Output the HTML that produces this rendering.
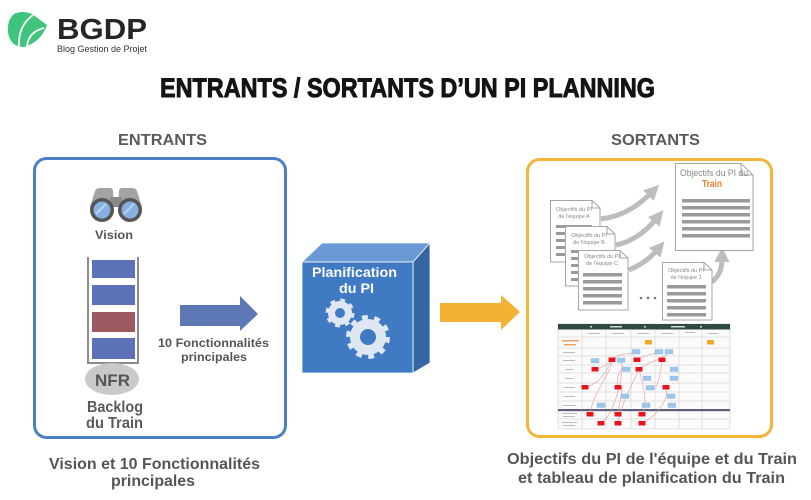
<!DOCTYPE html>
<html><head><meta charset="utf-8"><style>
html,body{margin:0;padding:0;background:#fff;}
svg{display:block;}
text{font-family:"Liberation Sans",Arial,sans-serif;font-weight:bold;}
</style></head><body>
<svg width="811" height="500" viewBox="0 0 811 500" xmlns="http://www.w3.org/2000/svg">
<defs>
<marker id="ah" markerWidth="3" markerHeight="3" refX="1" refY="1.5" orient="auto"><path d="M0 0 L3 1.5 L0 3Z" fill="#bdbdbd"/></marker>
</defs>
<rect width="811" height="500" fill="#fff"/>
<!-- Logo -->
<path d="M14 14 Q22 10 32 14 L47 25 Q41 42 24 47 Q10 47 8 32 Q7 20 14 14Z" fill="#3fc57b"/>
<path d="M19 46 Q18 26 33 15" stroke="#fff" stroke-width="1.8" fill="none"/>
<path d="M27 47 Q28 32 44 28" stroke="#fff" stroke-width="1.8" fill="none"/>
<text x="57" y="39" font-size="29" fill="#262626" textLength="90" lengthAdjust="spacingAndGlyphs">BGDP</text>
<text x="57" y="52" font-size="9.5" style="font-weight:normal" fill="#333" textLength="90" lengthAdjust="spacingAndGlyphs">Blog Gestion de Projet</text>
<!-- Title -->
<text x="160" y="97" font-size="26.5" fill="#141414" stroke="#141414" stroke-width="0.9" textLength="495" lengthAdjust="spacingAndGlyphs">ENTRANTS / SORTANTS D’UN PI PLANNING</text>
<text x="118" y="145" font-size="16" fill="#5a5a5a" textLength="89" lengthAdjust="spacingAndGlyphs">ENTRANTS</text>
<text x="611" y="145" font-size="16" fill="#5a5a5a" textLength="89" lengthAdjust="spacingAndGlyphs">SORTANTS</text>

<!-- Left box -->
<rect x="34.5" y="158.5" width="251" height="279" rx="12" fill="#fff" stroke="#4b80c8" stroke-width="3"/>
<!-- binoculars -->
<path d="M90 207 L95 191 Q96 188 100 188 L110 188 Q113 188 113 191 L114 207Z" fill="#a3a3a3"/>
<path d="M118 207 L119 191 Q119 188 122 188 L132 188 Q136 188 137 191 L142 207Z" fill="#a3a3a3"/>
<rect x="110" y="197" width="12" height="10" fill="#8a8a8a"/>
<circle cx="102" cy="210" r="12" fill="#555"/>
<circle cx="130" cy="210" r="12" fill="#555"/>
<circle cx="102" cy="210" r="8.5" fill="#86b0e2"/>
<circle cx="130" cy="210" r="8.5" fill="#86b0e2"/>
<path d="M96 214 L106 204" stroke="#b8d2f0" stroke-width="2"/>
<path d="M124 214 L134 204" stroke="#b8d2f0" stroke-width="2"/>
<text x="95" y="239" font-size="12" fill="#555" textLength="38" lengthAdjust="spacingAndGlyphs">Vision</text>
<!-- backlog -->
<path d="M88 257 V363 H138 V257" fill="none" stroke="#8c8c8c" stroke-width="2"/>
<rect x="92" y="260" width="43" height="18" fill="#5b72b6"/>
<rect x="92" y="285" width="43" height="20" fill="#5b72b6"/>
<rect x="92" y="312" width="43" height="20" fill="#9b5a5f"/>
<rect x="92" y="338" width="43" height="21" fill="#5b72b6"/>
<ellipse cx="112" cy="379" rx="27" ry="16" fill="#c9c9c9"/>
<text x="95" y="386" font-size="17" fill="#555" textLength="35" lengthAdjust="spacingAndGlyphs">NFR</text>
<text x="87" y="412" font-size="16" fill="#5a5a5a" textLength="56" lengthAdjust="spacingAndGlyphs">Backlog</text>
<text x="86" y="428" font-size="16" fill="#5a5a5a" textLength="57" lengthAdjust="spacingAndGlyphs">du Train</text>
<!-- blue arrow -->
<polygon points="180,305 240,305 240,296 258,314 240,331 240,326 180,326" fill="#5e78b6"/>
<text x="158" y="347" font-size="11.5" fill="#555" textLength="111" lengthAdjust="spacingAndGlyphs">10 Fonctionnalités</text>
<text x="181" y="361" font-size="11.5" fill="#555" textLength="66" lengthAdjust="spacingAndGlyphs">principales</text>

<!-- Cube -->
<polygon points="302,262 322,243 430,243 413,262" fill="#6a9ad6" stroke="#fff" stroke-width="0.8"/>
<polygon points="413,262 430,243 430,363 413,373" fill="#3566a4" stroke="#fff" stroke-width="0.8"/>
<rect x="302" y="262" width="111" height="111" fill="#407ac2" stroke="#fff" stroke-width="0.8"/>
<text x="312" y="277" font-size="14" fill="#fff" textLength="85" lengthAdjust="spacingAndGlyphs">Planification</text>
<text x="339" y="293" font-size="14" fill="#fff" textLength="35" lengthAdjust="spacingAndGlyphs">du PI</text>
<g fill="none" stroke="#dfe7f3">
<circle cx="340" cy="313" r="8.5" stroke-width="7"/>
<circle cx="340" cy="313" r="12.5" stroke-width="4" stroke-dasharray="4.6 5.2"/>
<circle cx="368" cy="337" r="13" stroke-width="10"/>
<circle cx="368" cy="337" r="19.5" stroke-width="5" stroke-dasharray="5.8 6.45"/>
</g>
<!-- orange arrow -->
<polygon points="440,303 501,303 501,295 520,312 501,330 501,322 440,322" fill="#f3b136"/>

<!-- Right box -->
<rect x="527.5" y="159.5" width="244" height="277" rx="12" fill="#fff" stroke="#f5b43a" stroke-width="3"/>
<!-- gray arrows -->
<g fill="none" stroke="#bdbdbd" stroke-width="5">
<path d="M601 219 C625 216 640 204 652 192" marker-end="url(#ah)"/>
<path d="M616 245 C635 241 648 229 657 218" marker-end="url(#ah)"/>
<path d="M629 270 C645 263 652 256 658 249" marker-end="url(#ah)"/>
<path d="M712 282 C720 275 722 268 722 257" marker-end="url(#ah)"/>
</g>
<!-- Train doc -->
<path d="M675.5 163.5 H741 L753 175 V250.5 H675.5Z" fill="#fff" stroke="#a5a5a5"/>
<path d="M741 163.5 V175 H753" fill="none" stroke="#a5a5a5"/>
<text x="680" y="176" font-size="9.5" style="font-weight:normal" fill="#888" textLength="68" lengthAdjust="spacingAndGlyphs">Objectifs du PI du</text>
<text x="702" y="187" font-size="10" fill="#e8802c" textLength="20" lengthAdjust="spacingAndGlyphs">Train</text>
<g fill="#9a9a9a">
<rect x="682" y="199" width="68" height="3.5"/><rect x="682" y="206" width="68" height="3.5"/><rect x="682" y="213" width="68" height="3.5"/><rect x="682" y="220" width="68" height="3.5"/><rect x="682" y="227" width="68" height="3.5"/><rect x="682" y="234" width="68" height="3.5"/>
</g>
<!-- team docs -->
<g>
<path d="M550.5 200.5 H592 L600 208 V262 H550.5Z" fill="#fff" stroke="#a5a5a5"/>
<path d="M592 200.5 V208 H600" fill="none" stroke="#a5a5a5"/>
<text x="574" y="211" font-size="5.5" style="font-weight:normal" fill="#888" text-anchor="middle">Objectifs du PI</text>
<text x="574" y="218" font-size="5.5" style="font-weight:normal" fill="#888" text-anchor="middle">de l'équipe A</text>
<g fill="#9a9a9a"><rect x="556" y="225" width="36" height="3"/><rect x="556" y="232" width="36" height="3"/><rect x="556" y="239" width="36" height="3"/><rect x="556" y="246" width="36" height="3"/><rect x="556" y="253" width="36" height="3"/></g>
</g>
<g>
<path d="M565.5 226.5 H607 L615 234 V286 H565.5Z" fill="#fff" stroke="#a5a5a5"/>
<path d="M607 226.5 V234 H615" fill="none" stroke="#a5a5a5"/>
<text x="589" y="237" font-size="5.5" style="font-weight:normal" fill="#888" text-anchor="middle">Objectifs du PI</text>
<text x="589" y="244" font-size="5.5" style="font-weight:normal" fill="#888" text-anchor="middle">de l'équipe B</text>
<g fill="#9a9a9a"><rect x="571" y="250" width="36" height="3"/><rect x="571" y="257" width="36" height="3"/><rect x="571" y="264" width="36" height="3"/><rect x="571" y="271" width="36" height="3"/><rect x="571" y="278" width="36" height="3"/></g>
</g>
<g>
<path d="M578.5 250.5 H620 L628 258 V310 H578.5Z" fill="#fff" stroke="#a5a5a5"/>
<path d="M620 250.5 V258 H628" fill="none" stroke="#a5a5a5"/>
<text x="602" y="258" font-size="5.5" style="font-weight:normal" fill="#888" text-anchor="middle">Objectifs du PI</text>
<text x="602" y="265" font-size="5.5" style="font-weight:normal" fill="#888" text-anchor="middle">de l'équipe C</text>
<g fill="#9a9a9a"><rect x="583" y="273" width="39" height="3.5"/><rect x="583" y="280" width="39" height="3.5"/><rect x="583" y="287" width="39" height="3.5"/><rect x="583" y="294" width="39" height="3.5"/><rect x="583" y="301" width="39" height="3.5"/></g>
</g>
<g>
<path d="M662.5 262.5 H704 L712 270 V320 H662.5Z" fill="#fff" stroke="#a5a5a5"/>
<path d="M704 262.5 V270 H712" fill="none" stroke="#a5a5a5"/>
<text x="686" y="272" font-size="5.5" style="font-weight:normal" fill="#888" text-anchor="middle">Objectifs du PI</text>
<text x="686" y="279" font-size="5.5" style="font-weight:normal" fill="#888" text-anchor="middle">de l'équipe J</text>
<g fill="#9a9a9a"><rect x="667" y="285" width="39" height="3.5"/><rect x="667" y="292" width="39" height="3.5"/><rect x="667" y="299" width="39" height="3.5"/><rect x="667" y="306" width="39" height="3.5"/><rect x="667" y="313" width="39" height="3.5"/></g>
</g>
<g fill="#777"><circle cx="641" cy="298" r="1.3"/><circle cx="648" cy="298" r="1.3"/><circle cx="655" cy="298" r="1.3"/></g>

<!-- Planning board -->
<rect x="558" y="324" width="172" height="105" fill="#fbfbfb" stroke="#cfcfcf" stroke-width="0.6"/>
<rect x="558" y="324" width="172" height="5.5" fill="#2f4a44"/>
<g fill="#cfd8d5"><rect x="590" y="326" width="2" height="1.5"/><rect x="610" y="326" width="12" height="1.5"/><rect x="644" y="326" width="2" height="1.5"/><rect x="671" y="326" width="14" height="1.5"/><rect x="700" y="326" width="2" height="1.5"/></g>
<g stroke="#c8c8c8" stroke-width="0.5">
<line x1="582" y1="329" x2="582" y2="429"/><line x1="606" y1="329" x2="606" y2="429"/><line x1="631" y1="329" x2="631" y2="429"/><line x1="655" y1="329" x2="655" y2="429"/><line x1="679" y1="329" x2="679" y2="429"/><line x1="702" y1="329" x2="702" y2="429"/>
<line x1="558" y1="337" x2="730" y2="337"/><line x1="558" y1="348" x2="730" y2="348"/><line x1="558" y1="356" x2="730" y2="356"/><line x1="558" y1="365" x2="730" y2="365"/><line x1="558" y1="373" x2="730" y2="373"/><line x1="558" y1="383" x2="730" y2="383"/><line x1="558" y1="392" x2="730" y2="392"/><line x1="558" y1="401" x2="730" y2="401"/><line x1="558" y1="419" x2="730" y2="419"/>
</g>
<rect x="558" y="409" width="172" height="2.2" fill="#5e5f7c"/>
<g fill="#bbb">
<rect x="588" y="333" width="12" height="1"/><rect x="612" y="333" width="12" height="1"/><rect x="637" y="333" width="12" height="1"/><rect x="661" y="333" width="12" height="1"/><rect x="685" y="332" width="10" height="1"/><rect x="708" y="333" width="10" height="1"/>
<rect x="563" y="352" width="12" height="1"/><rect x="563" y="360" width="12" height="1"/><rect x="565" y="369" width="8" height="1"/><rect x="565" y="378" width="8" height="1"/><rect x="564" y="387" width="11" height="1"/><rect x="564" y="396" width="11" height="1"/><rect x="563" y="405" width="13" height="1"/>
<rect x="562" y="413" width="15" height="1"/><rect x="563" y="416" width="12" height="1"/><rect x="562" y="422" width="15" height="1"/><rect x="563" y="425" width="12" height="1"/>
</g>
<rect x="562" y="340" width="17" height="1.5" fill="#f0a060"/>
<rect x="564" y="344" width="12" height="1.5" fill="#f0a060"/>
<g fill="none" stroke="#e39a9a" stroke-width="0.6">
<path d="M612 360 C620 352 630 355 636 352"/>
<path d="M595 369 C605 368 608 362 612 360"/>
<path d="M585 387 C600 385 608 368 612 360"/>
<path d="M590 414 C592 395 612 370 612 362"/>
<path d="M601 423 C615 415 625 370 621 361"/>
<path d="M618 414 C620 395 626 385 618 387"/>
<path d="M618 423 C622 400 635 380 639 369"/>
<path d="M642 414 C650 405 640 375 639 369"/>
<path d="M642 423 C660 415 670 395 666 387"/>
<path d="M637 360 C650 352 655 355 659 352"/>
<path d="M639 369 C650 360 660 362 669 352"/>
<path d="M662 360 C660 380 655 395 650 388"/>
<path d="M618 387 C616 372 622 368 626 369"/>
</g>
<g fill="#f4a62a"><rect x="645" y="340" width="7" height="4.5"/><rect x="707" y="340" width="7" height="4.5"/></g>
<g fill="#9cc6ee" stroke="#7fa8d0" stroke-width="0.3">
<rect x="632" y="349.5" width="8" height="4.5"/><rect x="655" y="349.5" width="8" height="4.5"/><rect x="665" y="349.5" width="8" height="4.5"/>
<rect x="591" y="358.5" width="8" height="4.5"/><rect x="617" y="358" width="8" height="4.5"/>
<rect x="622" y="367" width="8" height="4.5"/><rect x="670" y="367" width="8" height="4.5"/>
<rect x="643" y="376" width="8" height="4.5"/><rect x="670" y="376" width="8" height="4.5"/>
<rect x="646" y="385.5" width="8" height="4.5"/>
<rect x="621" y="394" width="8" height="4.5"/><rect x="667" y="394" width="8" height="4.5"/>
<rect x="597" y="403" width="8" height="4.5"/><rect x="642" y="403" width="8" height="4.5"/><rect x="668" y="403" width="8" height="4.5"/>
</g>
<g fill="#e8141c">
<rect x="608.5" y="357.5" width="7" height="4.5"/><rect x="633.5" y="357.5" width="7" height="4.5"/><rect x="658.5" y="357.5" width="7" height="4.5"/>
<rect x="591.5" y="367" width="7" height="4.5"/><rect x="635.5" y="367" width="7" height="4.5"/>
<rect x="581.5" y="385" width="7" height="4.5"/><rect x="614.5" y="385" width="7" height="4.5"/><rect x="662.5" y="385" width="7" height="4.5"/>
<rect x="586.5" y="412" width="7" height="4.5"/><rect x="614.5" y="412" width="7" height="4.5"/><rect x="638.5" y="412" width="7" height="4.5"/>
<rect x="597.5" y="421" width="7" height="4.5"/><rect x="614.5" y="421" width="7" height="4.5"/><rect x="638.5" y="421" width="7" height="4.5"/>
</g>

<!-- Captions -->
<text x="49" y="469" font-size="15.5" fill="#555" textLength="211" lengthAdjust="spacingAndGlyphs">Vision et 10 Fonctionnalités</text>
<text x="111" y="486" font-size="15.5" fill="#555" textLength="84" lengthAdjust="spacingAndGlyphs">principales</text>
<text x="507" y="464" font-size="15.5" fill="#555" textLength="290" lengthAdjust="spacingAndGlyphs">Objectifs du PI de l'équipe et du Train</text>
<text x="518" y="483" font-size="15.5" fill="#555" textLength="267" lengthAdjust="spacingAndGlyphs">et tableau de planification du Train</text>
</svg>
</body></html>
